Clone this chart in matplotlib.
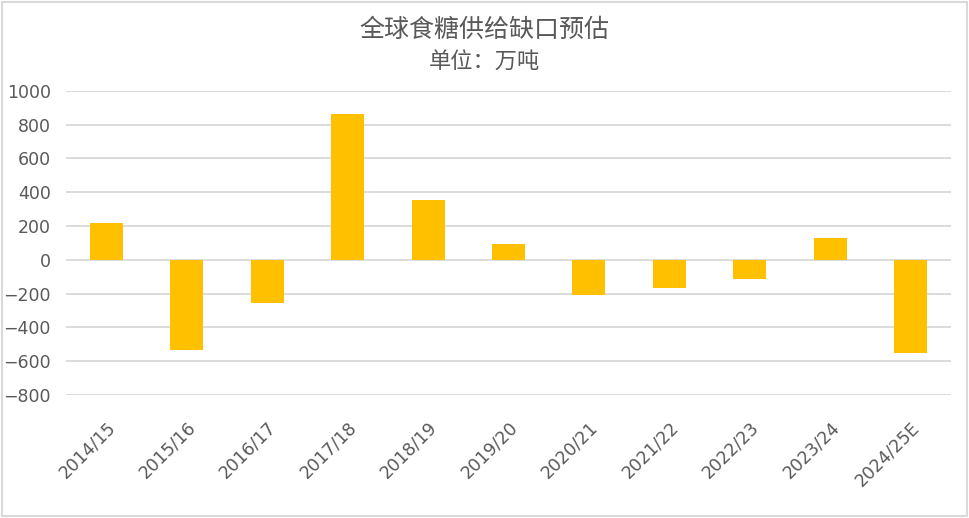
import matplotlib.pyplot as plt
import numpy as np

plt.rcParams['font.family'] = ['Noto Sans CJK SC', 'DejaVu Sans']

# data
seasons = ['2014/15', '2015/16', '2016/17', '2017/18', '2018/19', '2019/20',
           '2020/21', '2021/22', '2022/23', '2023/24', '2024/25E']
gap = [215, -533, -253, 860, 351, 91, -211, -168, -116, 130, -551]
y_ticks = [-800, -600, -400, -200, 0, 200, 400, 600, 800, 1000]

fig = plt.figure(figsize=(9.69, 5.18), dpi=100)
ax = fig.add_axes([66 / 969, 1 - 395 / 518, 885 / 969, 304.3 / 518])

x = np.arange(len(seasons))
ax.bar(x, gap, width=0.41, color='#FFC000', zorder=3)

ax.set_xlim(-0.5, len(seasons) - 0.5)
ax.set_ylim(-800, 1000)
ax.set_yticks(y_ticks)
ax.set_yticklabels([str(v).replace('-', '\u2212') for v in y_ticks],
                   fontsize=12.5, color='#595959', family='DejaVu Sans')
ax.set_xticks(x)
ax.set_xticklabels(seasons, rotation=45, ha='right', rotation_mode='anchor',
                   fontsize=12.5, color='#595959', family='DejaVu Sans')
ax.tick_params(length=0)
ax.tick_params(axis='x', pad=17)
ax.tick_params(axis='y', pad=11)
ax.grid(axis='y', color='#D9D9D9', linewidth=1.3, zorder=0)
for s in ax.spines.values():
    s.set_visible(False)

fig.text(0.5, 1 - 30 / 518, '全球食糖供给缺口预估', ha='center', va='center',
         fontsize=18, color='#595959')
fig.text(0.5, 1 - 62 / 518, '单位：万吨', ha='center', va='center',
         fontsize=16, color='#595959')

# border around the figure
fig.patches.append(plt.Rectangle((0.002, 0.003), 0.996, 0.994, transform=fig.transFigure,
                                 fill=False, edgecolor='#D9D9D9', linewidth=1.5))

fig.savefig('out.png', dpi=100)
